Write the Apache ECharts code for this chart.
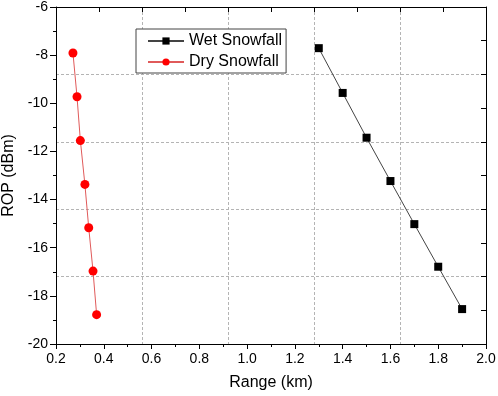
<!DOCTYPE html>
<html>
<head>
<meta charset="utf-8">
<script src="https://cdn.jsdelivr.net/npm/echarts@6/dist/echarts.min.js"></script>
<style>
  html, body { margin: 0; padding: 0; background: #fff; }
  #chart { width: 498px; height: 396px; }
</style>
</head>
<body>
<div id="chart"></div>
<script>
// data
var wetRange = [1.3, 1.4, 1.5, 1.6, 1.7, 1.8, 1.9];
var wetRop = [-7.71, -9.57, -11.43, -13.23, -15.02, -16.79, -18.55];
var dryRange = [0.271, 0.288, 0.302, 0.321, 0.337, 0.355, 0.370];
var dryRop = [-7.91, -9.73, -11.55, -13.37, -15.17, -16.97, -18.78];
var seriesNames = ['Wet Snowfall', 'Dry Snowfall'];

function pairs(xs, ys) {
  var out = [];
  for (var i = 0; i < xs.length; i++) out.push([xs[i], ys[i]]);
  return out;
}

var font = 'Liberation Sans';
var gridDash = {
  show: true,
  lineStyle: { color: '#b4b4b4', width: 1, type: [3, 2] }
};

var option = {
  animation: false,
  grid: { left: 56, right: 12, top: 7, bottom: 52, outerBoundsMode: 'none', containLabel: false },
  legend: {
    left: 136,
    top: 29,
    orient: 'vertical',
    data: seriesNames,
    backgroundColor: '#fff',
    borderColor: '#444',
    borderWidth: 1,
    padding: [3, 4, 2, 11],
    itemWidth: 36,
    itemHeight: 9,
    itemGap: 3,
    textStyle: { fontFamily: font, fontSize: 16, lineHeight: 18, color: '#000' }
  },
  xAxis: [
    {
      type: 'value',
      position: 'bottom',
      min: 0.2,
      max: 2.0,
      interval: 0.2,
      name: 'Range (km)',
      nameLocation: 'middle',
      nameGap: 31,
      nameTextStyle: { fontFamily: font, fontSize: 16, color: '#000' },
      axisLine: { onZero: false, lineStyle: { color: '#000', width: 1 } },
      axisTick: { inside: false, length: 5, lineStyle: { color: '#000' } },
      minorTick: { show: true, splitNumber: 2, length: 3, lineStyle: { color: '#000' } },
      axisLabel: {
        margin: 8,
        fontFamily: font,
        fontSize: 14,
        color: '#000',
        formatter: function (v) { return v.toFixed(1); }
      },
      splitLine: { show: false }
    },
    {
      // five-way division used for the grid, top border ticks
      type: 'value',
      position: 'top',
      min: 0,
      max: 5,
      interval: 1,
      axisLine: { onZero: false, lineStyle: { color: '#000', width: 1 } },
      axisTick: { inside: true, length: 5, lineStyle: { color: '#000' } },
      minorTick: { show: true, splitNumber: 2, length: 5, lineStyle: { color: '#000' } },
      axisLabel: { show: false },
      splitLine: gridDash
    }
  ],
  yAxis: [
    {
      type: 'value',
      position: 'left',
      min: -20,
      max: -6,
      interval: 2,
      name: 'ROP (dBm)',
      nameLocation: 'middle',
      nameGap: 37,
      nameTextStyle: { fontFamily: font, fontSize: 16, color: '#000' },
      axisLine: { onZero: false, lineStyle: { color: '#000', width: 1 } },
      axisTick: { inside: false, length: 6, lineStyle: { color: '#000' } },
      minorTick: { show: true, splitNumber: 2, length: 3, lineStyle: { color: '#000' } },
      axisLabel: { margin: 8, fontFamily: font, fontSize: 14, color: '#000' },
      splitLine: { show: false }
    },
    {
      type: 'value',
      position: 'right',
      min: 0,
      max: 5,
      interval: 1,
      axisLine: { onZero: false, lineStyle: { color: '#000', width: 1 } },
      axisTick: { inside: true, length: 5, lineStyle: { color: '#000' } },
      minorTick: { show: true, splitNumber: 2, length: 5, lineStyle: { color: '#000' } },
      axisLabel: { show: false },
      splitLine: gridDash
    }
  ],
  series: [
    {
      name: seriesNames[0],
      type: 'line',
      xAxisIndex: 0,
      yAxisIndex: 0,
      data: pairs(wetRange, wetRop),
      symbol: 'rect',
      symbolSize: 8,
      itemStyle: { color: '#000' },
      lineStyle: { color: '#444', width: 1 },
      z: 3
    },
    {
      name: seriesNames[1],
      type: 'line',
      xAxisIndex: 0,
      yAxisIndex: 0,
      data: pairs(dryRange, dryRop),
      symbol: 'circle',
      symbolSize: 9,
      itemStyle: { color: '#ff0000' },
      lineStyle: { color: '#e05a5a', width: 1 },
      z: 3
    }
  ]
};

var chart = echarts.init(document.getElementById('chart'));
chart.setOption(option);

window.addEventListener('resize', function () {
  chart.resize();
});
</script>
</body>
</html>
